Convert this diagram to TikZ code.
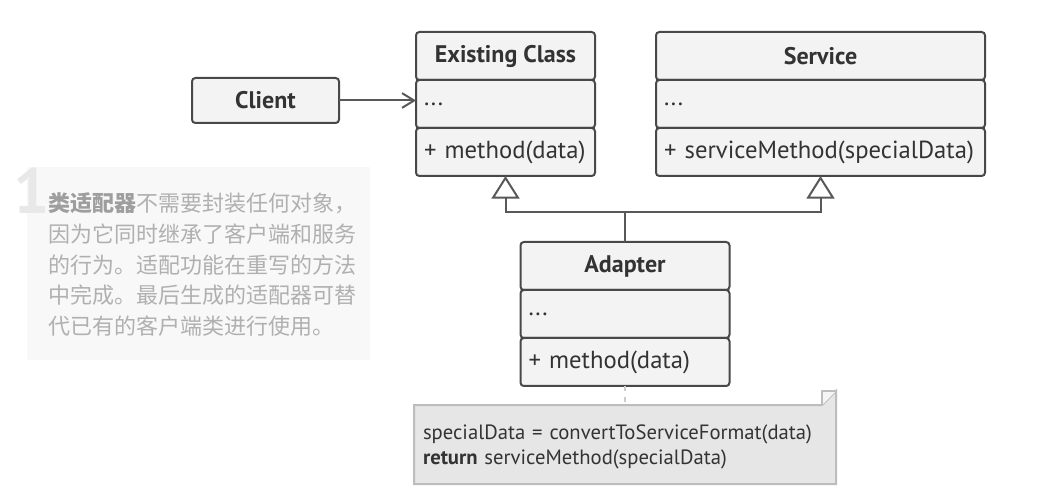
\documentclass[tikz,border=0pt]{standalone}
\usepackage{fontspec}
\setmainfont{PT Sans}
\newfontfamily\cjk{Noto Sans CJK SC}
\usetikzlibrary{positioning,arrows.meta}

\definecolor{boxline}{HTML}{484848}
\definecolor{boxfill}{HTML}{F3F3F3}
\definecolor{wire}{HTML}{585858}
\definecolor{txt}{HTML}{333333}
\definecolor{notefill}{HTML}{E6E6E6}
\definecolor{noteline}{HTML}{BDBDBD}
\definecolor{panel}{HTML}{F8F8F8}
\definecolor{hint}{HTML}{B0B0B0}

\tikzset{every picture/.style={line width=1.5pt}}

\begin{document}
\begin{tikzpicture}[x=0.75pt,y=0.75pt,yscale=-1,xscale=1,
  cell/.style={draw=boxline,fill=boxfill,rounded corners=2.5pt,minimum height=36pt,inner sep=0pt,outer sep=0pt,text=txt,font=\fontsize{18.5}{22}\selectfont},
  title/.style={cell,minimum width=#1,font=\fontsize{18}{22}\selectfont\bfseries},
  member/.style={cell,text width=#1,inner xsep=6pt,align=left},
  assoc/.style={draw=wire,-{Straight Barb[length=9pt,width=11pt]}},
  inherit/.style={draw=wire,-{Triangle[length=17pt,width=21pt,fill=white]}}]
\useasboundingbox (0,0) rectangle (1042,491);

%hint panel
\fill[panel] (27,167) rectangle (370,360);
\node[anchor=base west,inner sep=0pt,text=black!9,font=\fontsize{48}{48}\selectfont\bfseries] (num) at (12,214) {1};
\node[anchor=north west,inner sep=0pt,text=hint,text width=320pt,align=left,font=\cjk\fontsize{16.5}{20.25}\selectfont] (hinttext) at (47,192)
  {\textcolor{black!38}{\bfseries 类适配器}不需要封装任何对象，\\[2.7pt]因为它同时继承了客户端和服务\\[2.7pt]的行为。适配功能在重写的方法\\[2.7pt]中完成。最后生成的适配器可替\\[2.7pt]代已有的客户端类进行使用。};

%Client
\node[title=110.25pt,minimum height=33.75pt] (cl) at (265.5,100.5) {Client};

%Existing Class
\node[title=134.25pt] (ec) at (505.5,56) {Existing Class};
\node[member=122.25pt,below=0pt of ec] (ecattr) {...};
\node[member=122.25pt,below=0pt of ecattr] (ecop) {+ method(data)};

%Service
\node[title=246.75pt] (sv) at (820.5,56) {Service};
\node[member=234.75pt,below=0pt of sv] (svattr) {...};
\node[member=234.75pt,below=0pt of svattr] (svop) {+ serviceMethod(specialData)};

%Adapter
\node[title=156.75pt] (ad) at (625,266) {Adapter};
\node[member=144.75pt,below=0pt of ad] (adattr) {...};
\node[member=144.75pt,below=0pt of adattr] (adop) {+ method(data)};

%note
\node[minimum width=315pt,minimum height=57.75pt,inner sep=0pt] (note) at (625,444.5) {};
\draw[noteline,fill=notefill,line width=1.5pt] (note.south west) -- (note.north west) -- ([xshift=-10.5pt]note.north east) -- ([yshift=-10.5pt]note.north east) -- (note.south east) -- cycle;
\draw[noteline,fill=white!60!notefill,line width=1.2pt,line join=round] ([xshift=-10.5pt]note.north east) -- ([xshift=-10.5pt,yshift=-10.5pt]note.north east) -- ([yshift=-10.5pt]note.north east);
\node[text width=303pt,inner xsep=6pt,align=left,text=txt,font=\fontsize{15.5}{18}\selectfont] (notetext) at ([yshift=1.5pt]note.center)
  {specialData = convertToServiceFormat(data)\\[0.8pt]\textbf{return} serviceMethod(specialData)};

%connectors
\coordinate (j) at (625,212);
\draw[assoc] (cl.east) -- (cl.east -| ecattr.west);
\draw[inherit] (ad.north) -- (j) -| (ecop.south);
\draw[inherit] (j) -| (svop.south);
\draw[black!20,dash pattern=on 4pt off 4pt] (adop.south) -- (note.north);
\end{tikzpicture}
\end{document}
